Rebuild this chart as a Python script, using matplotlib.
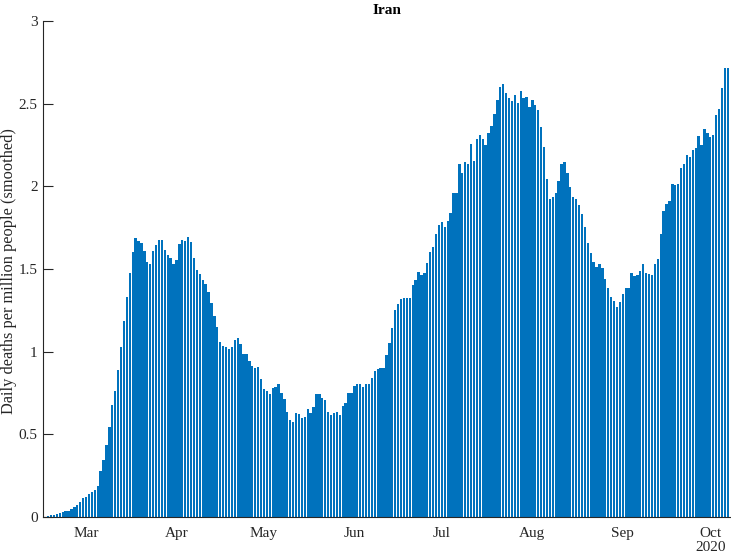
import numpy as np
import matplotlib
matplotlib.use("Agg")
import matplotlib.pyplot as plt
import matplotlib.dates as mdates
from matplotlib.ticker import FuncFormatter

# daily deaths per million (smoothed), one value per day from 2020-02-16
start_date = np.datetime64("2020-02-16")
deaths_pm = [
    0.002, 0.005, 0.010, 0.012, 0.020, 0.025, 0.030, 0.035, 0.036, 0.048,
    0.060, 0.070, 0.089, 0.113, 0.121, 0.137, 0.152, 0.166, 0.186, 0.279,
    0.343, 0.434, 0.545, 0.677, 0.762, 0.889, 1.030, 1.186, 1.329, 1.479,
    1.602, 1.685, 1.671, 1.657, 1.610, 1.545, 1.531, 1.612, 1.646, 1.677,
    1.677, 1.616, 1.582, 1.566, 1.531, 1.555, 1.651, 1.676, 1.670, 1.692,
    1.662, 1.565, 1.494, 1.470, 1.432, 1.408, 1.363, 1.293, 1.216, 1.152,
    1.061, 1.034, 1.026, 1.018, 1.028, 1.070, 1.084, 1.046, 0.984, 0.986,
    0.942, 0.913, 0.899, 0.907, 0.832, 0.774, 0.760, 0.742, 0.778, 0.788,
    0.804, 0.750, 0.713, 0.633, 0.587, 0.573, 0.631, 0.623, 0.599, 0.607,
    0.651, 0.631, 0.668, 0.742, 0.742, 0.718, 0.706, 0.637, 0.617, 0.627,
    0.637, 0.617, 0.674, 0.688, 0.748, 0.748, 0.794, 0.802, 0.802, 0.786,
    0.804, 0.804, 0.839, 0.883, 0.893, 0.899, 0.899, 0.980, 1.055, 1.142,
    1.252, 1.289, 1.319, 1.323, 1.327, 1.323, 1.405, 1.434, 1.480, 1.466,
    1.478, 1.534, 1.602, 1.635, 1.712, 1.766, 1.787, 1.757, 1.793, 1.837,
    1.958, 1.958, 2.134, 2.083, 2.150, 2.134, 2.254, 2.156, 2.287, 2.311,
    2.287, 2.250, 2.321, 2.366, 2.438, 2.523, 2.603, 2.618, 2.563, 2.533,
    2.517, 2.551, 2.507, 2.579, 2.533, 2.543, 2.478, 2.523, 2.493, 2.462,
    2.362, 2.240, 2.044, 1.924, 1.934, 1.958, 2.035, 2.134, 2.148, 2.079,
    1.994, 1.938, 1.926, 1.885, 1.833, 1.752, 1.660, 1.595, 1.545, 1.513,
    1.531, 1.508, 1.438, 1.383, 1.333, 1.309, 1.272, 1.303, 1.347, 1.383,
    1.383, 1.478, 1.458, 1.464, 1.488, 1.530, 1.474, 1.470, 1.464, 1.530,
    1.558, 1.712, 1.851, 1.891, 1.914, 2.014, 2.010, 2.014, 2.113, 2.133,
    2.188, 2.176, 2.220, 2.230, 2.307, 2.250, 2.345, 2.321, 2.297, 2.309,
    2.432, 2.468, 2.593, 2.718, 2.714,
]
month_ticks = ["2020-03-01", "2020-04-01", "2020-05-01", "2020-06-01",
               "2020-07-01", "2020-08-01", "2020-09-01", "2020-10-01"]
month_labels = ["Mar", "Apr", "May", "Jun", "Jul", "Aug", "Sep", "Oct"]
y_ticks = [0, 0.5, 1, 1.5, 2, 2.5, 3]

dates = start_date + np.arange(len(deaths_pm)).astype("timedelta64[D]")
x = mdates.date2num(dates.astype("datetime64[s]").astype(object))
xt = mdates.date2num(np.array(month_ticks, dtype="datetime64[s]").astype(object))

plt.rcParams["font.family"] = ["Liberation Serif", "DejaVu Serif"]
axis_col = "#262626"

fig = plt.figure(figsize=(7.31, 5.55), dpi=100)
ax = fig.add_axes([0.059, 0.0685, 0.941, 0.8935])

ax.bar(x, deaths_pm, width=0.8, color="#0072BD", linewidth=0)

ax.set_xlim(x[0] - 0.7, x[-1] + 1.1)
ax.set_ylim(0, 3)
ax.set_xticks(xt)
ax.set_xticklabels(month_labels)
ax.set_yticks(y_ticks)
ax.yaxis.set_major_formatter(FuncFormatter(lambda v, p: f"{v:g}"))
ax.tick_params(axis="y", direction="in", length=7, width=0.8, colors=axis_col,
               labelsize=11, pad=4)
ax.tick_params(axis="x", length=0, colors=axis_col, labelsize=11, pad=7)
ax.text(xt[-1], -0.145, "2020", ha="center", va="top", fontsize=11,
        color=axis_col, clip_on=False)

for s in ["top", "right"]:
    ax.spines[s].set_visible(False)
for s in ["left", "bottom"]:
    ax.spines[s].set_color(axis_col)
    ax.spines[s].set_linewidth(0.8)

ax.set_ylabel("Daily deaths per million people (smoothed)", fontsize=11.8,
              color=axis_col)
ax.yaxis.set_label_coords(-0.038, 0.495)
ax.set_title("Iran", fontsize=11, fontweight="bold", pad=5)

fig.savefig("out.png", dpi=100)
